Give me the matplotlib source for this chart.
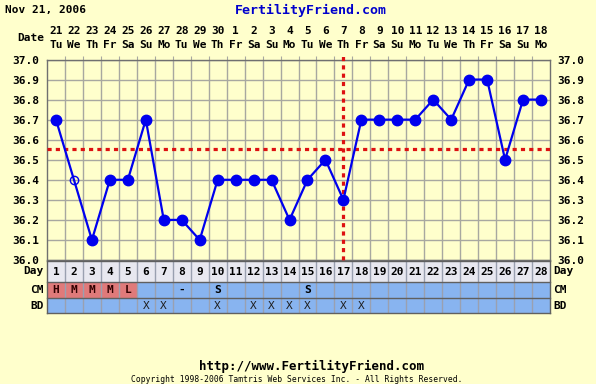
import numpy as np
import matplotlib.pyplot as plt
from matplotlib.patches import Rectangle

## DATA ##
days = list(range(1, 29))
dates = ['21', '22', '23', '24', '25', '26', '27', '28', '29', '30',
         '1', '2', '3', '4', '5', '6', '7', '8', '9', '10', '11', '12',
         '13', '14', '15', '16', '17', '18']
weekdays = ['Tu', 'We', 'Th', 'Fr', 'Sa', 'Su', 'Mo'] * 4
temps = [36.7, 36.4, 36.1, 36.4, 36.4, 36.7, 36.2, 36.2, 36.1, 36.4,
         36.4, 36.4, 36.4, 36.2, 36.4, 36.5, 36.3, 36.7, 36.7, 36.7,
         36.7, 36.8, 36.7, 36.9, 36.9, 36.5, 36.8, 36.8]
discarded = [2]
cm_days = [1, 2, 3, 4, 5, 8, 10, 15]
cm_codes = ['H', 'M', 'M', 'M', 'L', '-', 'S', 'S']
cm_red = [1, 2, 3, 4, 5]
bd_days = [6, 7, 10, 12, 13, 14, 15, 17, 18]
coverline = 36.555
ovulation_day = 17
y_ticks = [36.0, 36.1, 36.2, 36.3, 36.4, 36.5, 36.6, 36.7, 36.8, 36.9, 37.0]

W, H = 596, 384
bg = '#FFFFCC'
grid_c = '#A8A8A0'
blue = '#0000EE'
red = '#DD1111'
font = dict(family='DejaVu Sans Mono', weight='bold', size=8)

fig = plt.figure(figsize=(W / 100, H / 100), dpi=100, facecolor=bg)

def box(l, t, r, b):
    return [l / W, 1 - b / H, (r - l) / W, (b - t) / H]

## TEMPERATURE PLOT ##
ax = fig.add_axes(box(47, 59.5, 550, 260))
ax.set_facecolor(bg)
ax.set_xlim(0.5, 28.5)
ax.set_ylim(36.0, 37.0)
ax.set_xticks([d + 0.5 for d in days[:-1]])
ax.set_xticklabels([])
ax.set_yticks(y_ticks)
ax.set_yticklabels(['%.1f' % v for v in y_ticks], fontdict=font)
ax.grid(True, color=grid_c, lw=1)
ax.tick_params(axis='x', bottom=False, top=True, direction='out', length=3, color=grid_c)
ax.tick_params(axis='y', left=False, right=False, labelleft=True, labelright=True, pad=2)
for s in ax.spines.values():
    s.set_color('#707070')
    s.set_linewidth(1)
ax.set_axisbelow(True)

kept = [i for i, d in enumerate(days) if d not in discarded]
ax.plot([days[i] for i in kept], [temps[i] for i in kept], color=blue, lw=1.6,
        marker='o', ms=7.5, mfc=blue, mec=blue, zorder=4)
for d in discarded:
    ax.plot(d, temps[d - 1], 'o', ms=6, mfc='none', mec=blue, mew=1, zorder=4)

ax.axhline(coverline, color=red, lw=2.3, ls=(0, (1.3, 1.3)), zorder=3)
ax.plot([ovulation_day, ovulation_day], [36.0, 37.02], color=red, lw=2.3,
        ls=(0, (1.3, 1.3)), zorder=3, clip_on=False)

for i, d in enumerate(days):
    ax.annotate(dates[i], (d, 1), xycoords=('data', 'axes fraction'), xytext=(0, 28.5),
                textcoords='offset pixels', ha='center', va='center', **font)
    ax.annotate(weekdays[i], (d, 1), xycoords=('data', 'axes fraction'), xytext=(0, 14.5),
                textcoords='offset pixels', ha='center', va='center', **font)
fig.text(44 / W, 1 - 38 / H, 'Date', ha='right', va='center', **font)

## DAY / CM / BD TABLE ##
tb = fig.add_axes(box(47, 261, 550, 313))
tb.set_xlim(0.5, 28.5)
tb.set_ylim(313, 261)
tb.axis('off')
tb.add_patch(Rectangle((0.5, 261), 28, 20.5, color='#E8E8F0', lw=0))
tb.add_patch(Rectangle((0.5, 281.5), 28, 31.5, color='#88B4F0', lw=0))
for d in cm_red:
    tb.add_patch(Rectangle((d - 0.5, 282), 1, 15.5, color='#E07A7A', lw=0))
for k in range(1, 28):
    tb.plot([k + 0.5, k + 0.5], [261, 313], color='#9AA0B0', lw=1)
for yy in [261, 281.5, 297.5, 313]:
    tb.plot([0.5, 28.5], [yy, yy], color='#606060', lw=1, clip_on=False)
for xx in [0.5, 28.5]:
    tb.plot([xx, xx], [261, 313], color='#606060', lw=1, clip_on=False)

for d in days:
    tb.text(d, 271.5, str(d), ha='center', va='center', **font)
for d, c in zip(cm_days, cm_codes):
    tb.text(d, 290, c, ha='center', va='center', color='#300000' if d in cm_red else 'black', **font)
for d in bd_days:
    tb.text(d, 306, 'X', ha='center', va='center', color='#202020',
            family='DejaVu Sans Mono', size=8)

for lbl, yy in [('Day', 271.5), ('CM', 290), ('BD', 306)]:
    fig.text(44 / W, 1 - yy / H, lbl, ha='right', va='center', **font)
    fig.text(553 / W, 1 - yy / H, lbl, ha='left', va='center', **font)

## HEADER / FOOTER ##
fig.text(5 / W, 1 - 10 / H, 'Nov 21, 2006', ha='left', va='center', **font)
fig.text(311 / W, 1 - 10 / H, 'FertilityFriend.com', ha='center', va='center',
         color='#0000CC', family='DejaVu Sans Mono', weight='bold', size=9.5)
fig.text(311 / W, 1 - 366 / H, 'http://www.FertilityFriend.com', ha='center', va='center',
         family='DejaVu Sans Mono', weight='bold', size=9)
fig.text(297 / W, 1 - 379 / H,
         'Copyright 1998-2006 Tamtris Web Services Inc. - All Rights Reserved.',
         ha='center', va='center', family='DejaVu Sans Mono', size=5.8)

fig.savefig('out.png', dpi=100, facecolor=bg)
